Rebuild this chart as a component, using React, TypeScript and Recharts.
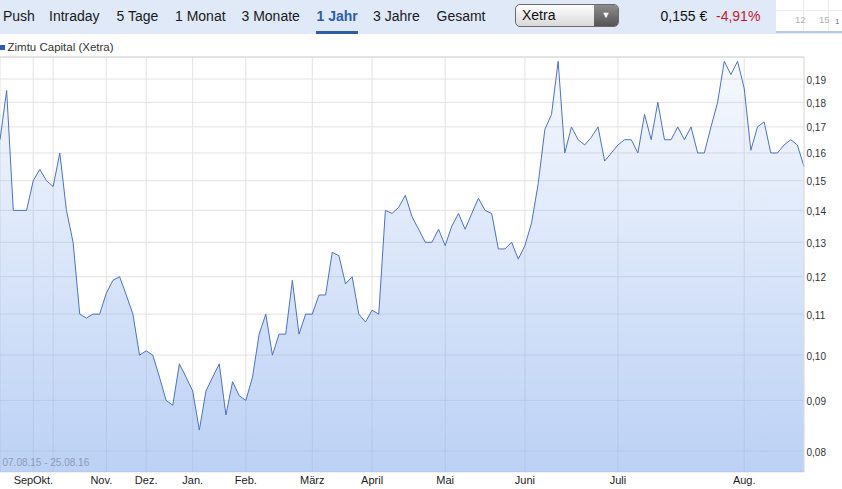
import React from 'react';
import { AreaChart, Area, XAxis, YAxis, CartesianGrid, ReferenceLine } from 'recharts';

// Zimtu Capital (Xetra), 07.08.15 - 25.08.16, one value per trading point
const prices = [
  0.165, 0.185, 0.14, 0.14, 0.14, 0.15, 0.154, 0.15, 0.148, 0.16,
  0.14, 0.13, 0.11, 0.109, 0.11, 0.11, 0.1155, 0.119, 0.12, 0.115,
  0.11, 0.1, 0.101, 0.1, 0.095, 0.09, 0.089, 0.098, 0.095, 0.092,
  0.084, 0.092, 0.095, 0.098, 0.087, 0.094, 0.091, 0.09, 0.095, 0.105,
  0.11, 0.1, 0.105, 0.105, 0.119, 0.105, 0.11, 0.11, 0.115, 0.115,
  0.127, 0.126, 0.118, 0.12, 0.11, 0.108, 0.111, 0.11, 0.14, 0.139,
  0.141, 0.145, 0.138, 0.134, 0.13, 0.13, 0.134, 0.129, 0.135, 0.139,
  0.134, 0.139, 0.144, 0.14, 0.139, 0.128, 0.128, 0.13, 0.125, 0.129,
  0.136, 0.149, 0.169, 0.175, 0.198, 0.16, 0.17, 0.165, 0.163, 0.166,
  0.17, 0.157, 0.16, 0.163, 0.165, 0.165, 0.16, 0.175, 0.165, 0.18,
  0.165, 0.165, 0.17, 0.165, 0.17, 0.16, 0.16, 0.17, 0.18, 0.198,
  0.192, 0.198, 0.186, 0.161, 0.17, 0.172, 0.16, 0.16, 0.163, 0.165,
  0.163, 0.155,
];

// index of the first trading point of each month
const monthTicks = [5, 8, 16, 22, 29, 37, 47, 56, 67, 79, 93, 112];
const monthLabels = ['Sep', 'Okt.', 'Nov.', 'Dez.', 'Jan.', 'Feb.', 'März', 'April', 'Mai', 'Juni', 'Juli', 'Aug.'];
const priceTicks = [0.08, 0.09, 0.1, 0.11, 0.12, 0.13, 0.14, 0.15, 0.16, 0.17, 0.18, 0.19];

const navItems = ['Push', 'Intraday', '5 Tage', '1 Monat', '3 Monate', '1 Jahr', '3 Jahre', 'Gesamt'];
const activeNav = '1 Jahr';
const exchange = 'Xetra';
const lastPrice = '0,155 €';
const change = '-4,91%';
const seriesName = 'Zimtu Capital (Xetra)';
const rangeLabel = '07.08.15 - 25.08.16';

const NAV_X = [3, 49, 116.5, 175, 241.5, 316.5, 373, 436.5];
// crowded labels at the left are pushed so they don't collide
const LABEL_ANCHOR: Record<string, { dx: number; anchor: string }> = {
  Sep: { dx: 0, anchor: 'end' },
  'Okt.': { dx: 0, anchor: 'end' },
  'Nov.': { dx: -5, anchor: 'middle' },
};
const FONT = '"Liberation Sans", Arial, Helvetica, sans-serif';

const data = prices.map((p, i) => ({ i, p }));

const fmt = (v: number) => v.toFixed(2).replace('.', ',');

function MonthTick({ x, y, payload }: any) {
  const label = monthLabels[monthTicks.indexOf(payload.value)] ?? '';
  const a = LABEL_ANCHOR[label] ?? { dx: 0, anchor: 'middle' };
  return (
    <text x={x + a.dx} y={y + 12} textAnchor={a.anchor as any} fontSize={11} fill="#222" fontFamily={FONT}>
      {label}
    </text>
  );
}

function PriceTick({ x, y, payload }: any) {
  return (
    <text x={x + 2.5} y={y + 4.5} textAnchor="start" fontSize={10} fill="#333" fontFamily={FONT}>
      {fmt(payload.value)}
    </text>
  );
}

function Header() {
  return (
    <div style={{ position: 'absolute', left: 0, top: 0, width: 842, height: 34, background: '#dfe9f8' }}>
      {navItems.map((n, k) => (
        <div
          key={n}
          style={{
            position: 'absolute',
            left: NAV_X[k],
            top: 0,
            height: 32,
            lineHeight: '32px',
            fontSize: 14,
            fontWeight: n === activeNav ? 700 : 400,
            color: n === activeNav ? '#2f5ca6' : '#1a1a1a',
            whiteSpace: 'nowrap',
          }}
        >
          {n}
        </div>
      ))}
      <div style={{ position: 'absolute', left: 316, top: 31, width: 41.5, height: 3, background: '#2f5ca6' }} />

      <div
        style={{
          position: 'absolute', left: 515, top: 4, width: 102, height: 21,
          border: '1px solid #6a6a6a', borderRadius: 5, overflow: 'hidden',
          background: 'linear-gradient(#fefefe, #d9d9d9)',
        }}
      >
        <div style={{ position: 'absolute', left: 6, top: 0, lineHeight: '21px', fontSize: 14, color: '#111' }}>{exchange}</div>
        <div
          style={{
            position: 'absolute', right: 0, top: 0, width: 24, height: 21,
            background: 'linear-gradient(#8c8c8c, #555)', color: '#fff',
            fontSize: 9, lineHeight: '21px', textAlign: 'center',
          }}
        >
          ▼
        </div>
      </div>

      <div style={{ position: 'absolute', left: 660.5, top: 0, lineHeight: '32px', fontSize: 14, color: '#111' }}>{lastPrice}</div>
      <div style={{ position: 'absolute', left: 716, top: 0, lineHeight: '32px', fontSize: 14, color: '#c4202b' }}>{change}</div>

      <div style={{ position: 'absolute', left: 776, top: 0, width: 66, height: 31, background: '#fff', borderBottom: '2px solid #b4c9ee' }}>
        <div style={{ position: 'absolute', left: 0, top: 10, width: 66, height: 1, background: '#ececec' }} />
        <div style={{ position: 'absolute', left: 27, top: 0, width: 1, height: 31, background: '#ececec' }} />
        <div style={{ position: 'absolute', left: 52, top: 0, width: 1, height: 31, background: '#ececec' }} />
        <div style={{ position: 'absolute', left: 19, top: 14, fontSize: 9.5, color: '#b0b0b0' }}>12</div>
        <div style={{ position: 'absolute', left: 43, top: 14, fontSize: 9.5, color: '#b0b0b0' }}>15</div>
        <div style={{ position: 'absolute', left: 59, top: 17, fontSize: 8, color: '#4a74c4' }}>1</div>
      </div>
    </div>
  );
}

export default function App() {
  return (
    <div
      style={{
        position: 'absolute', left: 0, top: 0, width: 842, height: 489,
        overflow: 'hidden', background: '#fff', fontFamily: FONT,
      }}
    >
      <AreaChart width={842} height={489} data={data} margin={{ top: 57, right: 0, bottom: 0, left: 0 }}>
        <defs>
          <linearGradient id="zimtuFill" x1="0" y1="0" x2="0" y2="1">
            <stop offset="0%" stopColor="#8fb2ee" stopOpacity={0.08} />
            <stop offset="100%" stopColor="#8fb2ee" stopOpacity={0.6} />
          </linearGradient>
        </defs>
        <CartesianGrid stroke="#e2e2e2" />
        <XAxis
          dataKey="i"
          type="number"
          domain={[0, prices.length - 1]}
          ticks={monthTicks}
          interval={0}
          axisLine={false}
          tickLine={false}
          tickSize={0}
          tickMargin={0}
          height={17}
          tick={<MonthTick />}
        />
        <YAxis
          orientation="right"
          scale="log"
          domain={[0.0762, 0.2]}
          allowDataOverflow
          ticks={priceTicks}
          interval={0}
          axisLine={false}
          tickLine={false}
          tickSize={0}
          tickMargin={0}
          width={38}
          tick={<PriceTick />}
        />
        <ReferenceLine y={0.2} stroke="#d6d6d6" />
        <ReferenceLine x={prices.length - 1} stroke="#e2e2e2" />
        <Area
          type="linear"
          dataKey="p"
          stroke="#4d72c2"
          strokeWidth={1}
          fill="url(#zimtuFill)"
          fillOpacity={1}
          dot={false}
          activeDot={false}
          isAnimationActive={false}
        />
      </AreaChart>

      <Header />

      <div style={{ position: 'absolute', left: 0, top: 45, width: 5, height: 5, background: '#2a5bb5' }} />
      <div style={{ position: 'absolute', left: 7.5, top: 40, fontSize: 11.5, lineHeight: '15px', color: '#333' }}>{seriesName}</div>

      <div style={{ position: 'absolute', left: 2.5, top: 457, fontSize: 10, lineHeight: '12px', color: '#8e9cb6' }}>{rangeLabel}</div>
    </div>
  );
}
